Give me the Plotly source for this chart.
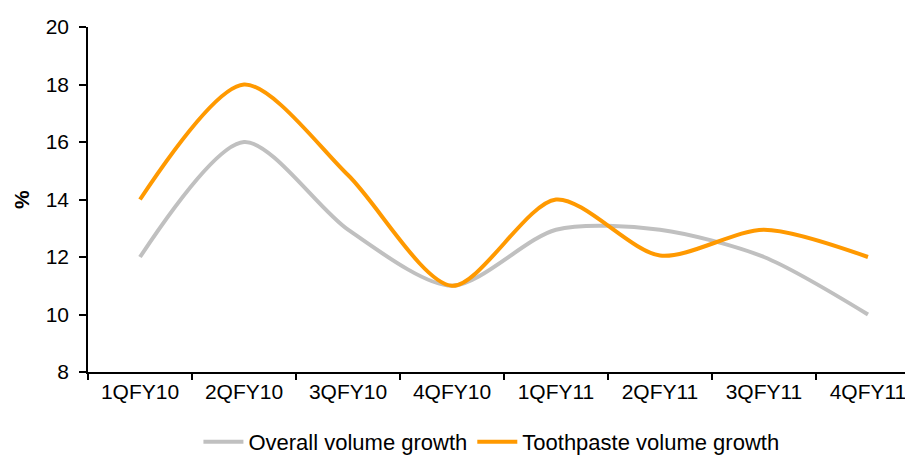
import plotly.graph_objects as go

quarters = ["1QFY10", "2QFY10", "3QFY10", "4QFY10", "1QFY11", "2QFY11", "3QFY11", "4QFY11"]
overall_growth = [12.0, 16.0, 12.95, 11.0, 12.95, 12.95, 12.0, 10.0]
toothpaste_growth = [14.0, 18.0, 14.85, 11.0, 14.0, 12.05, 12.95, 12.0]
y_ticks = [8, 10, 12, 14, 16, 18, 20]

FONT = "Liberation Sans, Arial, sans-serif"

fig = go.Figure()
fig.add_trace(go.Scatter(
    x=quarters, y=overall_growth, mode="lines", name="Overall volume growth",
    line=dict(color="#C0C0C0", width=4, shape="spline", smoothing=0.8),
))
fig.add_trace(go.Scatter(
    x=quarters, y=toothpaste_growth, mode="lines", name="Toothpaste volume growth",
    line=dict(color="#FF9900", width=4, shape="spline", smoothing=0.8),
))

# page body has an 8px default margin, so the figure is sized to fit inside the window
fig.update_layout(
    width=905, height=449,
    margin=dict(l=80, r=0, t=19, b=85, autoexpand=False),
    paper_bgcolor="white", plot_bgcolor="white",
    font=dict(family=FONT, size=21, color="black"),
    showlegend=True,
    legend=dict(orientation="h", x=0.489, xanchor="center", y=-0.203, yanchor="middle",
                font=dict(size=22), itemwidth=40, tracegroupgap=0,
                bgcolor="rgba(0,0,0,0)"),
    xaxis=dict(
        type="category", range=[-0.5, 7.433], automargin=False,
        showline=True, linecolor="black", linewidth=1.5,
        ticks="outside", tickson="boundaries", ticklen=6, tickwidth=1.5, tickcolor="black",
        showgrid=False, zeroline=False,
        tickfont=dict(size=21),
    ),
    yaxis=dict(
        range=[8, 20], tickvals=y_ticks, automargin=False,
        showline=True, linecolor="black", linewidth=1.5,
        ticks="outside", ticklen=7, tickwidth=1.5, tickcolor="black",
        showgrid=False, zeroline=False,
        tickfont=dict(size=21), ticklabelstandoff=6,
    ),
    annotations=[dict(
        text="<b>%</b>", xref="paper", yref="paper", x=-0.0806, y=0.5,
        textangle=-90, showarrow=False, font=dict(size=21, family=FONT),
        xanchor="center", yanchor="middle",
    )],
)

fig.write_html("out.html")
